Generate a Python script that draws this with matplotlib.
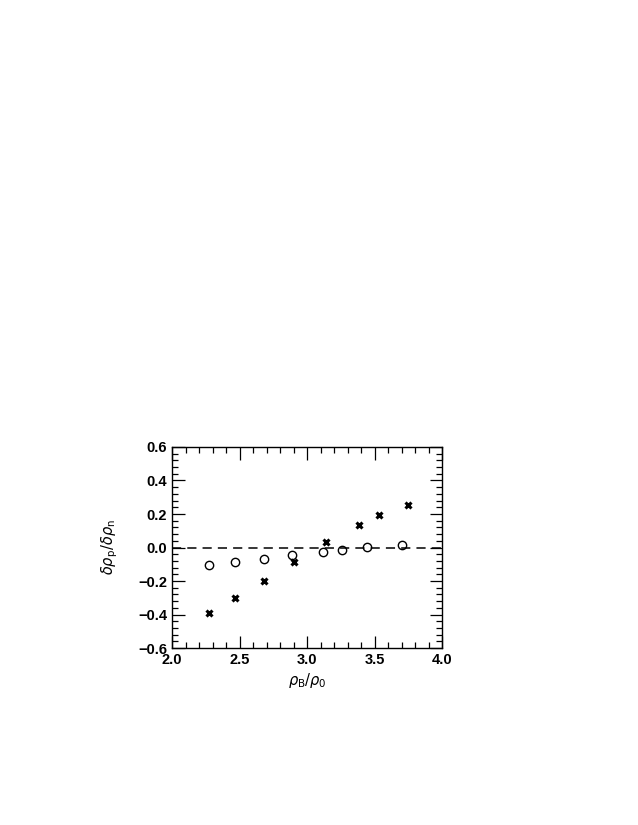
import numpy as np
import matplotlib.pyplot as plt
from matplotlib.ticker import MultipleLocator, FuncFormatter

# Ratio data
rho_circ = [2.277, 2.469, 2.679, 2.886, 3.119, 3.257, 3.447, 3.706]
ratio_circ = [-0.106, -0.087, -0.069, -0.045, -0.027, -0.017, 0.003, 0.017]

rho_cross = [2.274, 2.469, 2.679, 2.906, 3.138, 3.385, 3.536, 3.748]
ratio_cross = [-0.389, -0.303, -0.202, -0.087, 0.033, 0.134, 0.192, 0.256]

plt.rcParams['font.family'] = ['Liberation Sans', 'DejaVu Sans']
plt.rcParams['mathtext.fontset'] = 'dejavusans'

fig = plt.figure(figsize=(6.38, 8.25), dpi=100)
ax = fig.add_axes([0.2696, 0.2145, 0.4232, 0.2437])

ax.axhline(0, color='black', lw=1.1, ls=(0, (6, 4)))
ax.plot(rho_circ, ratio_circ, 'o', mfc='none', mec='black', ms=6, mew=1.0)
ax.plot(rho_cross, ratio_cross, 'x', color='black', ms=5, mew=2.2)

ax.set_xlim(2.0, 4.0)
ax.set_ylim(-0.6, 0.6)
ax.xaxis.set_major_locator(MultipleLocator(0.5))
ax.xaxis.set_minor_locator(MultipleLocator(0.1))
ax.yaxis.set_major_locator(MultipleLocator(0.2))
ax.yaxis.set_minor_locator(MultipleLocator(0.04))
fmt = FuncFormatter(lambda v, p: f'{v:.1f}'.replace('-', '\u2212'))
ax.xaxis.set_major_formatter(fmt)
ax.yaxis.set_major_formatter(fmt)

ax.tick_params(which='both', direction='in', top=True, right=True, width=0.9,
               labelsize=10.5)
ax.tick_params(which='major', length=9)
ax.tick_params(which='minor', length=4.5)
for lab in ax.get_xticklabels() + ax.get_yticklabels():
    lab.set_fontweight('bold')
for s in ax.spines.values():
    s.set_linewidth(1.0)

ax.set_xlabel(r'$\rho_{\rm B}/\rho_0$', fontsize=10.5, labelpad=3)
ax.set_ylabel(r'$\delta\rho_{\rm p}/\delta\rho_{\rm n}$', fontsize=10.5, labelpad=13)

fig.savefig('out.png', dpi=100)
